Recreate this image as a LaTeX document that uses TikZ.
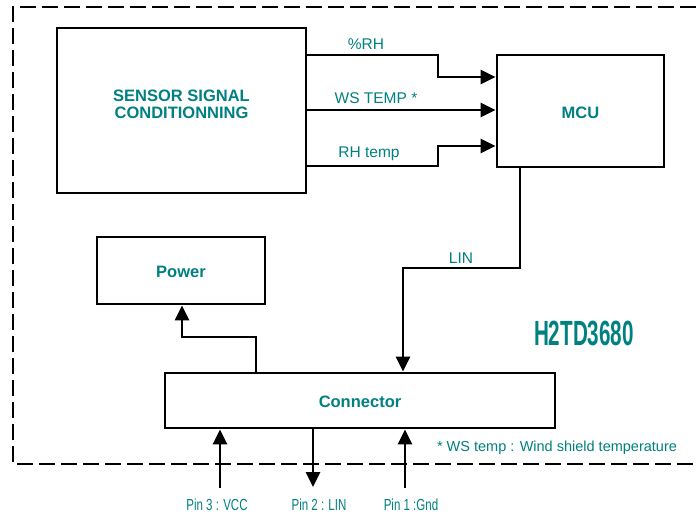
\documentclass[tikz,border=0pt]{standalone}
\usepackage{fontspec}
\setmainfont{Liberation Sans}
\usetikzlibrary{arrows.meta}
\definecolor{tealtxt}{RGB}{0,128,128}
\begin{document}
\begin{tikzpicture}[x=1pt,y=-1pt,
  blockbox/.style={draw=black,line width=2.8pt,fill=white,inner sep=0pt},
  boxtxt/.style={font=\fontsize{16.5}{17}\selectfont\bfseries,text=tealtxt,align=center,inner sep=0pt},
  arr/.style={line width=2.6pt,-{Triangle[length=15pt,width=14pt]}},
  lbl/.style={font=\fontsize{15.5}{18}\selectfont,text=tealtxt,inner sep=0pt},
  pinlbl/.style={font=\fontsize{16}{18}\selectfont,text=tealtxt,inner sep=0pt},
  frame/.style={line width=2.8pt,dash pattern=on 16pt off 6pt}]
\useasboundingbox (0,0) rectangle (696,517);
\draw[frame] (696,7) -- (13,7) -- (13,464) -- (696,464);

\node[blockbox,minimum width=249pt,minimum height=165pt] (sensor) at (181.5,110.5) {};
\node[boxtxt] (sensortxt) at (181.5,104.5) {SENSOR SIGNAL\\CONDITIONNING};
\node[blockbox,minimum width=167pt,minimum height=112pt] (mcu) at (580.5,111) {};
\node[boxtxt] (mcutxt) at (580.5,113) {MCU};
\node[blockbox,minimum width=168pt,minimum height=67pt] (power) at (181,270.5) {};
\node[boxtxt] (powertxt) at (181,271.5) {Power};
\node[blockbox,minimum width=390pt,minimum height=55pt] (conn) at (360,400.5) {};
\node[boxtxt] (conntxt) at (360,402) {Connector};

% signals sensor -> MCU
\draw[arr] (sensor.east |- 0,55) -- (438,55) |- (mcu.west |- 0,77);
\draw[arr] (sensor.east |- 0,110) -- (mcu.west |- 0,110);
\draw[arr] (sensor.east |- 0,166) -- (438,166) |- (mcu.west |- 0,146);
\node[lbl] (lrh) at (366,44) {\%RH};
\node[lbl] (lws) at (376,98) {WS TEMP *};
\node[lbl] (lrht) at (369,154) {RH temp};

% LIN
\draw[arr] (mcu.south -| 520,0) |- (403,268) -- (conn.north -| 403,0);
\node[lbl] (llin) at (461,258) {LIN};

% power
\draw[arr] (conn.north -| 256,0) |- (182,337) -- (power.south -| 182,0);

% pins
\coordinate (p3) at (220,488);
\coordinate (p2) at (313,487);
\coordinate (p1) at (405,488);
\draw[arr] (p3) -- (conn.south -| p3);
\draw[arr] (conn.south -| p2) -- (p2);
\draw[arr] (p1) -- (conn.south -| p1);
\node[pinlbl] (t3) at (217,505) {\scalebox{0.72}[1]{Pin 3 : VCC}};
\node[pinlbl] (t2) at (319,505) {\scalebox{0.72}[1]{Pin 2 : LIN}};
\node[pinlbl] (t1) at (411,505) {\scalebox{0.72}[1]{Pin 1 :Gnd}};

\node[font=\fontsize{35}{38}\selectfont\bfseries,text=tealtxt,inner sep=0pt] (ref) at (584,333)
  {\scalebox{0.59}[1]{H2TD3680}};
\node[font=\fontsize{14.5}{17}\selectfont,text=tealtxt,inner sep=0pt] (note) at (557,448)
  {* WS temp : Wind shield temperature};
\end{tikzpicture}
\end{document}
